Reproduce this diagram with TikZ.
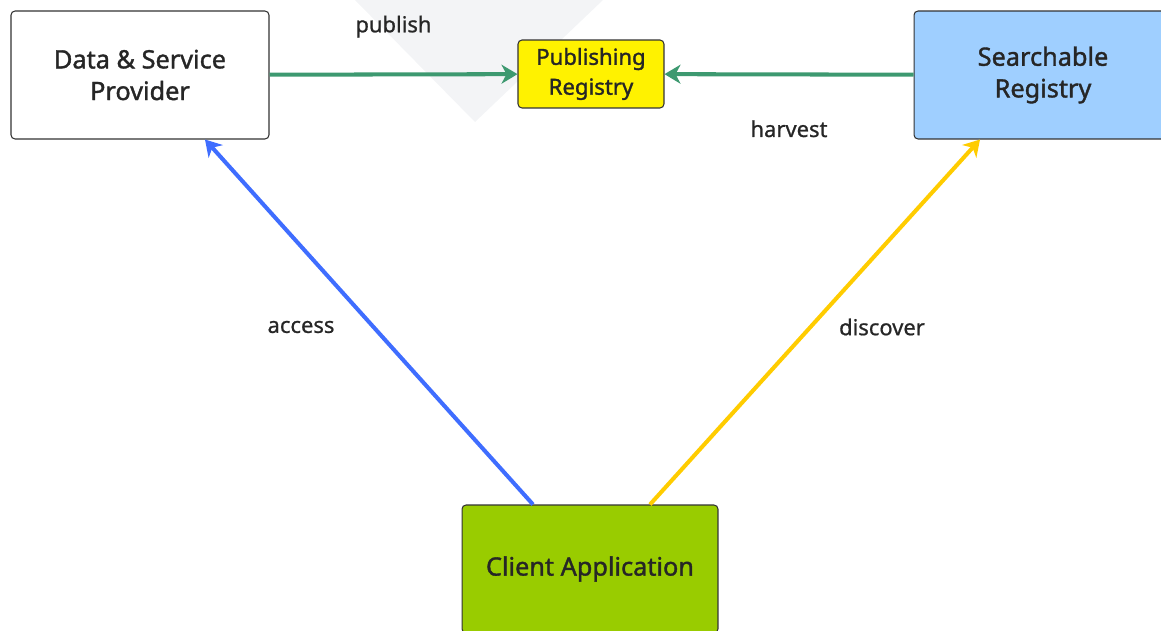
\documentclass[tikz,border=0pt]{standalone}
\usepackage{fontspec}
\setmainfont{Noto Sans}
\newfontfamily\boxfont{Noto Sans}[FakeBold=1.4]
\newfontfamily\labelfont{Noto Sans}[FakeBold=0.8]
\usepackage{xcolor}
\usetikzlibrary{arrows.meta}

\definecolor{flowgreen}{HTML}{3D9970}
\definecolor{accessblue}{HTML}{3F6DFF}
\definecolor{discyellow}{HTML}{FFCC00}
\definecolor{searchblue}{HTML}{9FCFFF}
\definecolor{clientgreen}{HTML}{99CC00}
\definecolor{markgray}{HTML}{F3F4F6}

\tikzset{
  entity/.style={draw=black!80, rounded corners=0.08cm, line width=0.6pt,
    align=center, text=black!85, font=\boxfont\fontsize{14.4}{18}\selectfont},
  flow/.style={line width=2.3pt, -{Stealth[length=0.32cm, width=0.38cm, inset=0.1cm]}},
  flowlabel/.style={text=black!85, font=\labelfont\fontsize{12.5}{15}\selectfont}
}

\begin{document}
\begin{tikzpicture}[x=0.02cm, y=-0.02cm]
      \useasboundingbox (0,0) rectangle (1161,631);
      \clip (0,0) rectangle (1161,631);
      % Watermark
      \fill[markgray] (355,0) -- (603,0) -- (475,122) -- cycle;
      % Boxes
      \node[entity, fill=white, minimum width=5.16cm, minimum height=2.56cm] (provider) at (140,75) {Data \& Service\\Provider};
      \node[entity, fill=yellow, minimum width=2.92cm, minimum height=1.36cm, font=\boxfont\fontsize{12.6}{17}\selectfont] (pubreg) at (591,74) {Publishing\\Registry};
      \node[entity, fill=searchblue, minimum width=5.16cm, minimum height=2.56cm] (searchreg) at (1043,75) {Searchable\\Registry};
      \node[entity, fill=clientgreen, minimum width=5.12cm, minimum height=2.56cm] (client) at (590,569) {Client Application};
      % Arrows
      \draw[flow, flowgreen] (provider) -- node[flowlabel, above=0.58cm] {publish} (pubreg);
      \draw[flow, flowgreen] (searchreg) -- node[flowlabel, below=0.76cm] {harvest} (pubreg);
      \draw[flow, accessblue] ([xshift=-1.14cm]client.north) -- node[flowlabel, xshift=-1.36cm, yshift=-0.1cm] {access} ([xshift=1.3cm]provider.south);
      \draw[flow, discyellow] ([xshift=1.2cm]client.north) -- node[flowlabel, xshift=1.34cm, yshift=-0.1cm] {discover} ([xshift=-1.26cm]searchreg.south);
    \end{tikzpicture}
\end{document}
